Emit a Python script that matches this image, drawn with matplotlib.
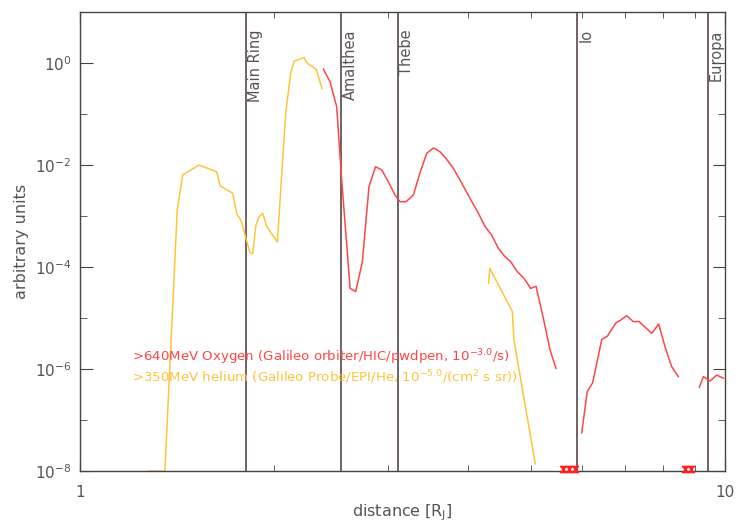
import numpy as np
import matplotlib
matplotlib.use('Agg')
import matplotlib.pyplot as plt
from matplotlib.ticker import FixedLocator, NullFormatter
from matplotlib.path import Path

# helium, Galileo probe (two pieces)
he_r1 = [1.275, 1.354, 1.415, 1.443, 1.529, 1.629, 1.649, 1.725, 1.750, 1.775,
         1.817, 1.835, 1.853, 1.873, 1.895, 1.920, 1.948, 2.023, 2.084, 2.122,
         2.149, 2.225, 2.247, 2.324, 2.372]
he_f1 = [1e-8, 1e-8, 1.31e-3, 6.4e-3, 1.0e-2, 7.4e-3, 3.9e-3, 2.8e-3, 1.09e-3, 8.4e-4,
         2.96e-4, 1.9e-4, 1.86e-4, 6.4e-4, 9.7e-4, 1.13e-3, 6.2e-4, 3.1e-4, 0.105, 0.64,
         1.09, 1.28, 1.01, 0.75, 0.316]
he_r2 = [4.30, 4.32, 4.68, 4.709, 5.08]
he_f2 = [4.8e-5, 9.4e-5, 1.35e-5, 3.6e-6, 1.37e-8]

# oxygen, Galileo orbiter (three pieces)
ox_r1 = [2.384, 2.441, 2.500, 2.545, 2.623, 2.676, 2.740, 2.806, 2.873, 2.936,
         3.006, 3.079, 3.134, 3.202, 3.287, 3.366, 3.447, 3.531, 3.615, 3.703,
         3.792, 3.907, 4.024, 4.146, 4.247, 4.348, 4.452, 4.560, 4.653, 4.764,
         4.880, 4.998, 5.093, 5.228, 5.355, 5.470]
ox_f1 = [0.76, 0.43, 0.139, 5.1e-3, 3.8e-5, 3.3e-5, 1.27e-4, 3.8e-3, 9.3e-3, 8.0e-3,
         4.7e-3, 2.58e-3, 1.91e-3, 1.91e-3, 2.58e-3, 7.0e-3, 1.69e-2, 2.16e-2, 1.82e-2, 1.29e-2,
         8.6e-3, 4.4e-3, 2.22e-3, 1.13e-3, 6.2e-4, 4.2e-4, 2.33e-4, 1.59e-4, 1.27e-4, 8.1e-5,
         6.0e-5, 3.8e-5, 4.2e-5, 9.9e-6, 2.36e-6, 1.03e-6]
ox_r2 = [5.995, 6.116, 6.235, 6.440, 6.570, 6.776, 6.874, 7.040, 7.207, 7.363,
         7.697, 7.891, 8.072, 8.267, 8.464]
ox_f2 = [5.6e-8, 3.6e-7, 5.4e-7, 3.8e-6, 4.4e-6, 8.1e-6, 8.9e-6, 1.11e-5, 8.5e-6, 8.5e-6,
         5.0e-6, 7.6e-6, 2.74e-6, 1.11e-6, 7.1e-7]
ox_r3 = [9.125, 9.256, 9.478, 9.707, 9.94]
ox_f3 = [4.4e-7, 7.1e-7, 5.8e-7, 7.6e-7, 6.6e-7]
ox_lim_r = [5.61, 5.73, 5.85, 8.67, 8.86]

moon_names = ['Main Ring', 'Amalthea', 'Thebe', 'Io', 'Europa']
moon_r = [1.81, 2.54, 3.11, 5.9, 9.4]

RED = '#ff4646'
YEL = '#ffc43d'
TXT = '#555555'

plt.rcParams['font.family'] = ['DejaVu Sans']
fig = plt.figure(figsize=(7.38, 5.23), dpi=100)
ax = fig.add_axes([0.1084, 0.0994, 0.8740, 0.8776])

ax.plot(he_r1, he_f1, color=YEL, lw=1.1)
ax.plot(he_r2, he_f2, color=YEL, lw=1.1)
ax.plot(ox_r1, ox_f1, color=RED, lw=1.1)
ax.plot(ox_r2, ox_f2, color=RED, lw=1.1)
ax.plot(ox_r3, ox_f3, color=RED, lw=1.1)

# upper-limit markers sitting on the bottom axis
hourglass = Path([(-1, 1), (1, 1), (-1, -1), (1, -1), (-1, 1)],
                 [Path.MOVETO, Path.LINETO, Path.LINETO, Path.LINETO, Path.CLOSEPOLY])
ax.plot(ox_lim_r, [1.1e-8] * len(ox_lim_r), ls='none', marker=hourglass,
        ms=4.5, color='#ff2020', clip_on=False, zorder=5)

for name, r in zip(moon_names, moon_r):
    ax.axvline(r, color='#4a3838', lw=1.1, zorder=1)
    ax.text(r * 1.005, 4.6, name, rotation=90, ha='left', va='top',
            color=TXT, fontsize=10.5)

ax.set_xscale('log')
ax.set_yscale('log')
ax.set_xlim(1, 10)
ax.set_ylim(1e-8, 10)

ax.xaxis.set_major_locator(FixedLocator([1, 10]))
ax.xaxis.set_minor_locator(FixedLocator([2, 3, 4, 5, 6, 7, 8, 9]))
ax.xaxis.set_minor_formatter(NullFormatter())
ax.set_xticklabels(['1', '10'])
ax.yaxis.set_major_locator(FixedLocator([1e-8, 1e-6, 1e-4, 1e-2, 1e0]))
ax.yaxis.set_minor_locator(FixedLocator([1e-7, 1e-5, 1e-3, 1e-1]))
ax.yaxis.set_minor_formatter(NullFormatter())
ax.set_yticklabels(['$10^{-8}$', '$10^{-6}$', '$10^{-4}$', '$10^{-2}$', '$10^{0}$'])

ax.tick_params(which='both', direction='in', top=True, right=True,
               color='#444444', labelcolor=TXT, labelsize=11)
ax.tick_params(axis='y', which='major', length=9, pad=6)
ax.tick_params(axis='y', which='minor', length=5)
ax.tick_params(axis='x', which='major', length=9, pad=10)
ax.tick_params(axis='x', which='minor', length=4)
for s in ax.spines.values():
    s.set_color('#444444')
    s.set_linewidth(1.0)

ax.set_xlabel('distance [R$_\\mathregular{J}$]', color=TXT, fontsize=11.5, labelpad=2)
ax.set_ylabel('arbitrary units', color=TXT, fontsize=11.5, labelpad=4)

ax.text(0.080, 0.248, '>640MeV Oxygen (Galileo orbiter/HIC/pwdpen, 10$^{-3.0}$/s)',
        transform=ax.transAxes, color=RED, fontsize=9.6, va='center')
ax.text(0.080, 0.205, '>350MeV helium (Galileo Probe/EPI/He, 10$^{-5.0}$/(cm$^2$ s sr))',
        transform=ax.transAxes, color=YEL, fontsize=9.6, va='center')

fig.savefig('out.png', dpi=100)
